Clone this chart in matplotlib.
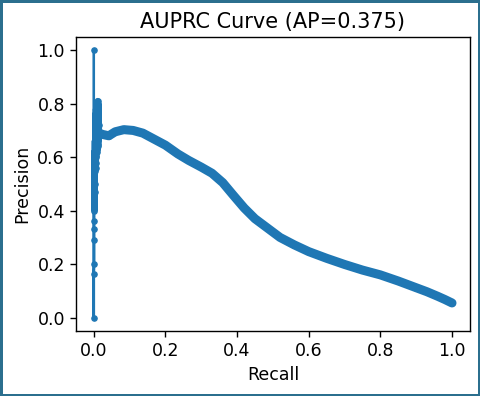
import matplotlib
matplotlib.use("Agg")
import matplotlib.pyplot as plt

# Main part of the precision-recall curve
recall = [0.015, 0.025, 0.042, 0.06, 0.084, 0.11, 0.137, 0.165, 0.2, 0.235,
          0.265, 0.3, 0.33, 0.36, 0.39, 0.42, 0.45, 0.49, 0.52, 0.56,
          0.6, 0.65, 0.7, 0.75, 0.8, 0.85, 0.9, 0.93, 0.96, 0.98, 1.0]
precision = [0.69, 0.685, 0.68, 0.695, 0.703, 0.70, 0.69, 0.67, 0.645, 0.612,
             0.588, 0.563, 0.54, 0.505, 0.457, 0.41, 0.37, 0.33, 0.30, 0.272,
             0.247, 0.222, 0.199, 0.178, 0.16, 0.137, 0.112, 0.097, 0.08, 0.068, 0.055]

# Low-recall spike part (noisy precision at almost zero recall)
spike_recall = [0.015, 0.014, 0.013, 0.013, 0.012, 0.012, 0.011, 0.011, 0.010, 0.010,
                0.009, 0.009, 0.008, 0.008, 0.007, 0.007, 0.006, 0.006, 0.005, 0.005,
                0.004, 0.004, 0.004, 0.003, 0.003, 0.003, 0.002, 0.002, 0.002, 0.002,
                0.001, 0.001, 0.001, 0.001, 0.001, 0.001, 0.000, 0.000, 0.000]
spike_precision = [0.69, 0.72, 0.80, 0.66, 0.79, 0.64, 0.81, 0.65, 0.78, 0.63,
                   0.80, 0.62, 0.79, 0.63, 0.77, 0.60, 0.78, 0.58, 0.75, 0.56,
                   0.76, 0.55, 0.70, 0.50, 0.66, 0.47, 0.62, 0.45, 0.58, 0.40,
                   0.53, 0.465, 0.36, 0.33, 0.29, 0.20, 0.165, 0.0, 1.0]
n_dense = 31  # first points of the spike form a dense blob

title = "AUPRC Curve (AP=0.375)"

s = 1.25
plt.rcParams.update({
    "font.size": 10 * s,
    "axes.titlesize": 12 * s,
    "axes.labelsize": 10 * s,
    "xtick.labelsize": 10 * s,
    "ytick.labelsize": 10 * s,
    "xtick.major.size": 3.5 * s,
    "ytick.major.size": 3.5 * s,
    "xtick.major.width": 0.8 * s,
    "ytick.major.width": 0.8 * s,
    "axes.linewidth": 0.8 * s,
})

fig = plt.figure(figsize=(4.8, 3.96), dpi=100)
fig.patch.set_edgecolor("#2b6f8e")
fig.patch.set_linewidth(2.5)
ax = fig.add_axes([0.158, 0.164, 0.821, 0.743])

color = "#1f77b4"
ax.plot(spike_recall, spike_precision, marker=".", ms=6 * s, color=color, lw=1.5 * s)
ax.plot(spike_recall[:n_dense], spike_precision[:n_dense], color=color, lw=4.5,
        solid_joinstyle="round", solid_capstyle="round")
ax.plot(recall, precision, marker=".", ms=6 * s, color=color, lw=6.5,
        solid_capstyle="round", solid_joinstyle="round")

ax.set_title(title)
ax.set_xlabel("Recall")
ax.set_ylabel("Precision")
ax.set_xticks([0.0, 0.2, 0.4, 0.6, 0.8, 1.0])
ax.set_yticks([0.0, 0.2, 0.4, 0.6, 0.8, 1.0])

fig.savefig("out.png", dpi=100, edgecolor=fig.get_edgecolor())
